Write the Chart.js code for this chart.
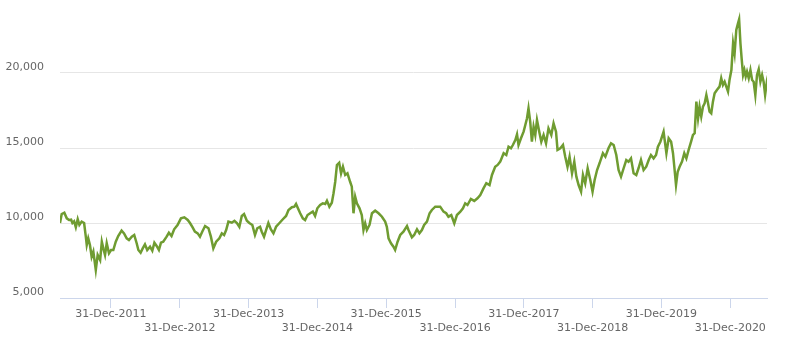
<!DOCTYPE html>
<html>
<head>
<meta charset="utf-8">
<script src="https://cdn.jsdelivr.net/npm/chart.js@4.4.1/dist/chart.umd.min.js"></script>
<style>
    html, body { margin: 0; padding: 0; background: #fff; }
    #wrap { width: 792px; height: 348px; position: relative; }
</style>
</head>
<body>
<div id="wrap"><canvas id="lineChart"></canvas></div>
<script>
// index level, sampled roughly every two weeks
const dates = [
    "2011-04-05", "2011-04-14", "2011-04-28", "2011-05-11", "2011-05-23", "2011-06-03", "2011-06-10", "2011-06-19",
    "2011-06-28", "2011-07-08", "2011-07-17", "2011-07-29", "2011-08-11", "2011-08-20", "2011-08-25", "2011-09-02",
    "2011-09-11", "2011-09-20", "2011-09-29", "2011-10-12", "2011-10-22", "2011-11-04", "2011-11-13", "2011-11-21",
    "2011-11-30", "2011-12-09", "2011-12-21",
    "2012-01-01", "2012-01-13", "2012-01-26", "2012-02-08", "2012-02-26", "2012-03-10", "2012-03-24", "2012-04-05",
    "2012-04-20", "2012-05-03", "2012-05-16", "2012-05-25", "2012-06-06", "2012-06-17", "2012-06-29", "2012-07-11",
    "2012-07-26", "2012-08-07", "2012-08-18", "2012-08-30", "2012-09-11", "2012-09-22", "2012-10-04", "2012-10-22",
    "2012-11-03", "2012-11-17", "2012-12-01", "2012-12-19",
    "2013-01-06", "2013-01-24", "2013-02-11", "2013-02-23", "2013-03-09", "2013-03-21", "2013-04-05", "2013-04-17",
    "2013-04-29", "2013-05-14", "2013-06-01", "2013-06-14", "2013-06-27", "2013-07-12", "2013-07-29", "2013-08-11",
    "2013-08-23", "2013-09-03", "2013-09-15", "2013-10-03", "2013-10-17", "2013-10-30", "2013-11-12", "2013-11-25",
    "2013-12-07", "2013-12-22",
    "2014-01-04", "2014-01-20", "2014-02-03", "2014-02-15", "2014-03-02", "2014-03-11", "2014-03-23", "2014-04-03",
    "2014-04-15", "2014-04-28", "2014-05-12", "2014-05-26", "2014-06-13", "2014-07-01", "2014-07-18", "2014-07-31",
    "2014-08-18", "2014-08-31", "2014-09-09", "2014-09-19", "2014-10-01", "2014-10-15", "2014-10-27", "2014-11-09",
    "2014-11-23", "2014-12-07", "2014-12-19", "2014-12-31",
    "2015-01-15", "2015-01-29", "2015-02-11", "2015-02-20", "2015-03-05", "2015-03-18", "2015-03-27", "2015-04-05",
    "2015-04-14", "2015-04-26", "2015-05-06", "2015-05-16", "2015-05-28", "2015-06-09", "2015-06-23", "2015-07-02",
    "2015-07-11", "2015-07-20", "2015-07-29", "2015-08-12", "2015-08-24", "2015-09-02", "2015-09-11", "2015-09-20",
    "2015-10-04", "2015-10-17", "2015-11-03", "2015-11-21", "2015-12-09", "2015-12-26",
    "2016-01-04", "2016-01-13", "2016-01-26", "2016-02-08", "2016-02-17", "2016-03-01", "2016-03-15", "2016-04-01",
    "2016-04-20", "2016-04-28", "2016-05-16", "2016-05-28", "2016-06-12", "2016-06-25", "2016-07-08", "2016-07-20",
    "2016-08-04", "2016-08-18", "2016-08-30", "2016-09-17", "2016-10-13", "2016-10-31", "2016-11-14", "2016-11-26",
    "2016-12-11", "2016-12-27",
    "2017-01-10", "2017-01-28", "2017-02-11", "2017-02-23", "2017-03-07", "2017-03-25", "2017-04-12", "2017-04-29",
    "2017-05-14", "2017-05-31", "2017-06-15", "2017-07-02", "2017-07-15", "2017-08-01", "2017-08-14", "2017-08-28",
    "2017-09-15", "2017-09-29", "2017-10-11", "2017-10-24", "2017-11-03", "2017-11-16", "2017-11-25", "2017-12-03",
    "2017-12-16", "2017-12-30",
    "2018-01-08", "2018-01-17", "2018-01-25", "2018-02-03", "2018-02-12", "2018-02-21", "2018-03-02", "2018-03-11",
    "2018-03-23", "2018-04-03", "2018-04-15", "2018-04-28", "2018-05-11", "2018-05-26", "2018-06-07", "2018-06-20",
    "2018-06-28", "2018-07-13", "2018-07-27", "2018-08-08", "2018-08-20", "2018-08-31", "2018-09-13", "2018-09-25",
    "2018-10-06", "2018-10-18", "2018-10-31", "2018-11-10", "2018-11-22", "2018-12-05", "2018-12-19", "2018-12-31",
    "2019-01-11", "2019-01-24", "2019-02-06", "2019-02-24", "2019-03-09", "2019-03-26", "2019-04-08", "2019-04-22",
    "2019-05-06", "2019-05-18", "2019-05-31", "2019-06-14", "2019-06-28", "2019-07-10", "2019-07-23", "2019-08-06",
    "2019-08-20", "2019-09-01", "2019-09-14", "2019-09-28", "2019-10-12", "2019-10-25", "2019-11-06", "2019-11-20",
    "2019-12-03", "2019-12-13", "2019-12-26",
    "2020-01-12", "2020-01-27", "2020-02-08", "2020-02-21", "2020-03-02", "2020-03-09", "2020-03-18", "2020-03-27",
    "2020-04-06", "2020-04-19", "2020-05-01", "2020-05-12", "2020-05-24", "2020-06-06", "2020-06-16", "2020-06-25",
    "2020-07-04", "2020-07-13", "2020-07-21", "2020-07-30", "2020-08-08", "2020-08-17", "2020-08-26", "2020-09-04",
    "2020-09-12", "2020-09-21", "2020-09-30", "2020-10-09", "2020-10-21", "2020-11-04", "2020-11-13", "2020-11-22",
    "2020-12-01", "2020-12-10", "2020-12-19", "2020-12-27",
    "2021-01-06", "2021-01-15", "2021-01-23", "2021-02-01", "2021-02-10", "2021-02-16", "2021-02-23", "2021-03-02",
    "2021-03-09", "2021-03-16", "2021-03-23", "2021-03-30", "2021-04-08", "2021-04-17", "2021-04-26", "2021-05-04",
    "2021-05-13", "2021-05-22", "2021-05-31", "2021-06-09", "2021-06-18", "2021-06-26", "2021-07-04", "2021-07-11",
    "2021-07-14"
];

const values = [
    10000, 10600, 10690, 10310, 10200, 10220, 10000, 10110,
    9710, 10250, 9870, 10090, 10000, 9090, 8530, 8980,
    8530, 7750, 8090, 6870, 7870, 7530, 8750, 8310,
    7870, 8650, 7980,
    8200, 8200, 8750, 9130, 9490, 9310, 8980, 8870,
    9090, 9200, 8650, 8200, 8020, 8310, 8580, 8200,
    8420, 8150, 8690, 8470, 8200, 8690, 8750, 9090,
    9350, 9130, 9580, 9870,
    10310, 10380, 10200, 10000, 9710, 9420, 9310, 9090,
    9420, 9800, 9650, 9090, 8310, 8750, 8980, 9310,
    9200, 9530, 10090, 10020, 10150, 10000, 9750, 10470,
    10600, 10150,
    10000, 9870, 9200, 9650, 9750, 9420, 9090, 9530,
    10000, 9580, 9310, 9750, 10000, 10250, 10470, 10870,
    11050, 11090, 11270, 10980, 10650, 10310, 10200, 10530,
    10650, 10760, 10470, 10980,
    11200, 11310, 11270, 11490, 11090, 11350, 11980, 12750,
    13870, 14020, 13310, 13750, 13200, 13310, 12750, 12420,
    10650, 11750, 11310, 10980, 10530, 9530, 9980, 9530,
    9870, 10650, 10820, 10650, 10420, 10090,
    9750, 8980, 8650, 8420, 8200, 8750, 9200, 9420,
    9800, 9530, 9050, 9200, 9580, 9310, 9530, 9870,
    10090, 10650, 10870, 11090, 11090, 10760, 10650, 10420,
    10530, 9980,
    10530, 10750, 10980, 11310, 11200, 11600, 11470, 11650,
    11870, 12310, 12650, 12530, 13200, 13750, 13870, 14090,
    14650, 14530, 15090, 14980, 15200, 15530, 15910, 15200,
    15650, 16090,
    16530, 16980, 17650, 16760, 15420, 16420, 15870, 16870,
    16090, 15420, 15870, 15310, 16310, 15870, 16650, 16090,
    14870, 14980, 15200, 14420, 13750, 14420, 13310, 14090,
    13090, 12530, 12090, 13200, 12640, 13650, 12870, 12090,
    12870, 13530, 13980, 14650, 14420, 15000, 15310, 15200,
    14530, 13530, 13090, 13650, 14200, 14090, 14310, 13310,
    13200, 13650, 14200, 13530, 13750, 14200, 14530, 14310,
    14530, 15090, 15420,
    16090, 14650, 15650, 15420, 14650, 13750, 12530, 13420,
    13750, 14090, 14650, 14310, 14870, 15420, 15870, 15980,
    18090, 16980, 17750, 17090, 17750, 17980, 18530, 17980,
    17420, 17310, 18090, 18650, 18870, 19090, 19650, 19200,
    19420, 19090, 18760, 19530,
    20200, 21980, 21310, 22870, 23310, 23580, 21980, 20870,
    19870, 20200, 19760, 20090, 19650, 20200, 19530, 19420,
    18530, 19870, 20250, 19420, 19870, 19420, 18530, 19200,
    18870
];

const tickYears = [2011, 2012, 2013, 2014, 2015, 2016, 2017, 2018, 2019, 2020];
const tickLabels = [
    "31-Dec-2011", "31-Dec-2012", "31-Dec-2013", "31-Dec-2014", "31-Dec-2015",
    "31-Dec-2016", "31-Dec-2017", "31-Dec-2018", "31-Dec-2019", "31-Dec-2020"
];
const yTicks = [5000, 10000, 15000, 20000];

const toTime = (s) => {
    const [y, m, d] = s.split("-").map(Number);
    return Date.UTC(y, m - 1, d);
};

const points = dates.map((d, i) => ({ x: toTime(d), y: values[i] }));

const ctx = document.getElementById("lineChart").getContext("2d");

new Chart(ctx, {
    type: "line",
    data: {
        datasets: [{
            data: points,
            borderColor: "#6f9c31",
            borderWidth: 2.5,
            pointRadius: 0,
            tension: 0,
            fill: false,
        }],
    },
    options: {
        responsive: true,
        maintainAspectRatio: false,
        animation: false,
        layout: { padding: { top: 5.5, right: 25, bottom: 0, left: 0 } },
        plugins: {
            legend: { display: false },
            tooltip: { enabled: false },
        },
        scales: {
            x: {
                type: "linear",
                min: points[0].x,
                max: points[points.length - 1].x,
                afterBuildTicks: (scale) => {
                    scale.ticks = tickYears.map((y) => ({ value: Date.UTC(y, 11, 31) }));
                },
                afterFit: (scale) => { scale.height = 50; },
                grid: {
                    drawOnChartArea: false,
                    drawTicks: true,
                    tickLength: 10,
                    color: "#ccd6eb",
                },
                border: { color: "#ccd6eb", width: 1 },
                ticks: {
                    autoSkip: false,
                    maxRotation: 0,
                    padding: -1,
                    color: "#666666",
                    font: { family: "DejaVu Sans", size: 11, lineHeight: 1.3 },
                    callback: (value, index) =>
                        index % 2 ? ["", tickLabels[index]] : [tickLabels[index], ""],
                },
            },
            y: {
                min: 5000,
                max: 24500,
                afterBuildTicks: (scale) => {
                    scale.ticks = yTicks.map((v) => ({ value: v }));
                },
                afterFit: (scale) => {
                    // keep the label gap from eating into the plot height
                    scale.width = 60;
                    scale.paddingTop = 0;
                    scale.paddingBottom = 0;
                },
                grid: {
                    drawTicks: false,
                    color: (c) => (c.tick && c.tick.value === 5000 ? "rgba(0,0,0,0)" : "#e6e6e6"),
                },
                border: { display: false },
                ticks: {
                    padding: 16,
                    labelOffset: -6,
                    color: "#666666",
                    font: { family: "DejaVu Sans", size: 11 },
                    callback: (v) => v.toLocaleString("en-US"),
                },
            },
        },
    },
});
</script>
</body>
</html>
